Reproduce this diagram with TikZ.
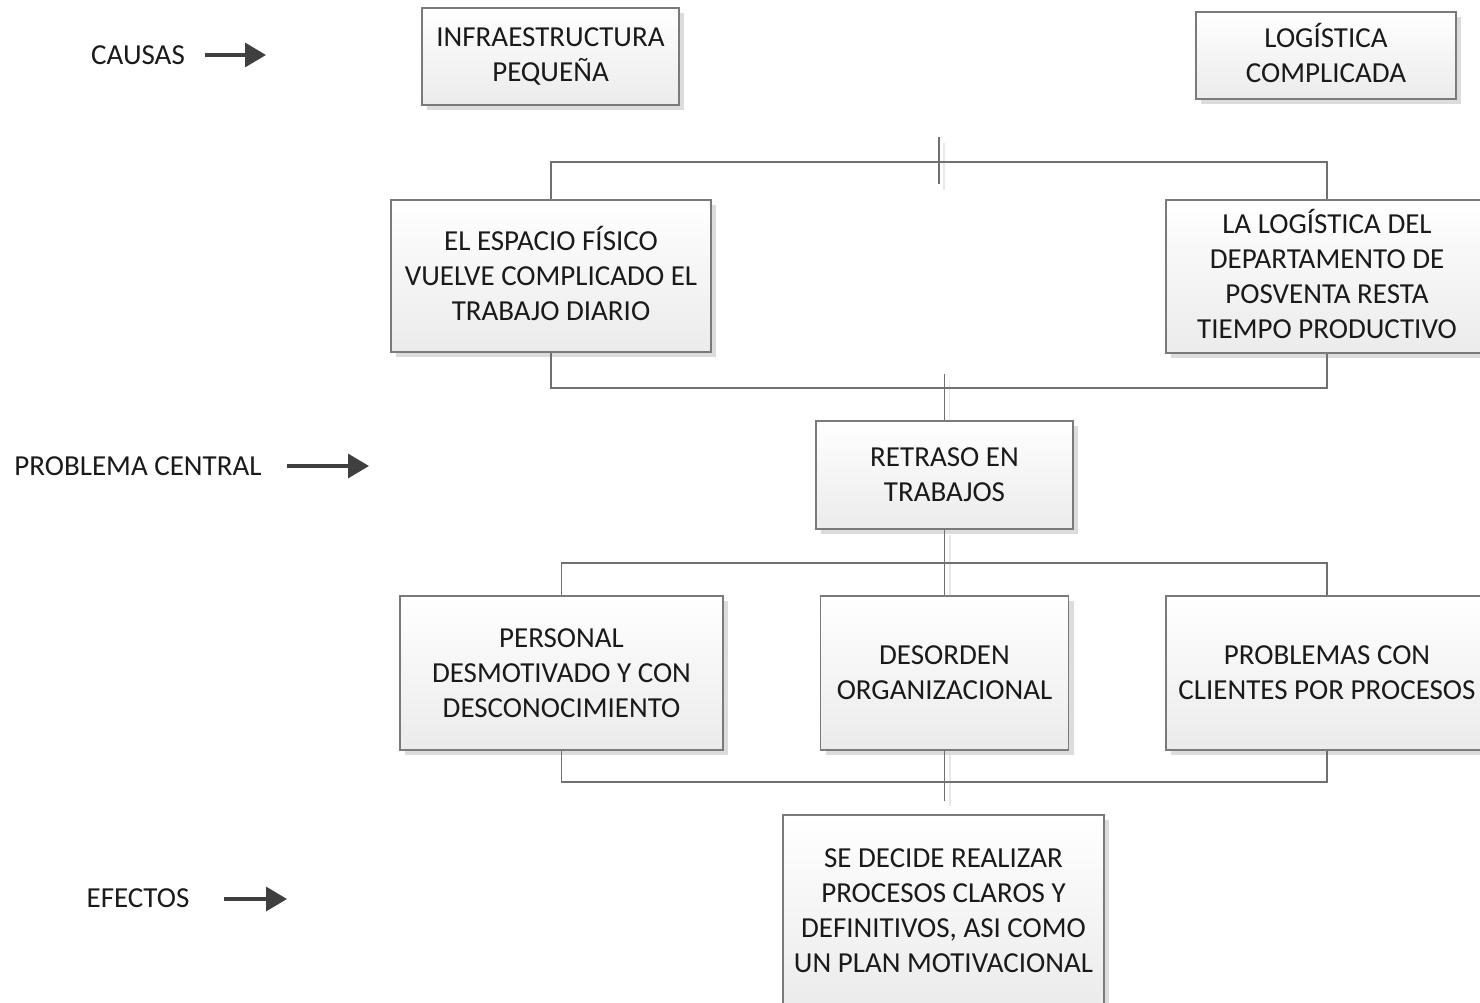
\documentclass[tikz,border=0pt]{standalone}
\usepackage{fontspec}
\setmainfont{Carlito}
\usetikzlibrary{arrows.meta,shadows}
\definecolor{boxline}{HTML}{7A7A7A}
\definecolor{boxbot}{HTML}{EBEBEB}
\definecolor{shadowgray}{HTML}{DCDCDC}
\definecolor{wire}{HTML}{707070}
\definecolor{ghost}{HTML}{E8E8E8}
\definecolor{arrowgray}{HTML}{3F3F3F}
\definecolor{txt}{HTML}{1A1A1A}
% accented capitals on a first line should not push the text block down
\newcommand{\flatacc}[1]{\smash{#1}}
\tikzset{
  box/.style={draw=boxline, line width=1.3pt, top color=white, bottom color=boxbot,
    drop shadow={shadow xshift=5pt, shadow yshift=-5pt, fill=shadowgray, opacity=1},
    align=center, text=txt, inner sep=0pt,
    font=\fontsize{29}{35}\selectfont},
  lbl/.style={text=txt, inner sep=0pt, font=\fontsize{29}{35}\selectfont},
  wireline/.style={draw=wire, line width=1.3pt},
  ghostline/.style={draw=ghost, line width=1.5pt},
  pointer/.style={draw=arrowgray, line width=3.3pt,
    -{Triangle[length=21pt,width=24pt]}}
}
\begin{document}
\begin{tikzpicture}[x=1pt,y=-1pt]
\useasboundingbox (0,0) rectangle (1480,1003);

% row labels with pointers
\node[lbl] (causas) at (138,55) {CAUSAS};
\node[lbl] (problema) at (138,466) {PROBLEMA CENTRAL};
\node[lbl] (efectos) at (138,898) {EFECTOS};
\coordinate (pa1) at (205,55);   \coordinate (pa2) at (266,55);
\coordinate (pb1) at (287,466);  \coordinate (pb2) at (369,466);
\coordinate (pc1) at (224,899);  \coordinate (pc2) at (287,899);

% junction points of the connector brackets
\coordinate (jtop) at (939,162);
\coordinate (stubtopA) at (939,137);
\coordinate (stubtopB) at (939,184);
\coordinate (jmid) at (944.5,388);
\coordinate (stubmid) at (944.5,374);
\coordinate (jlow) at (944.5,563);
\coordinate (jbot) at (944.5,782);
\coordinate (stubbot) at (944.5,801);

% faint shadows of the stub lines
\draw[ghostline] ([xshift=5pt,yshift=-6pt]stubtopA) -- ([xshift=5pt,yshift=-6pt]stubtopB);
\draw[ghostline] ([xshift=5pt,yshift=-6pt]stubmid) -- ++(0,47);
\draw[ghostline] (950,535) -- (950,600);
\draw[ghostline] (950,755) -- (950,806);

% boxes
\node[box, minimum width=257, minimum height=97] (b1) at (550.5,56.5)
  {INFRAESTRUCTURA\\PEQUEÑA};
\node[box, minimum width=260, minimum height=87] (b2) at (1326,55.5)
  {LOG\flatacc{Í}STICA\\COMPLICADA};
\node[box, minimum width=320, minimum height=152] (b3) at (551,276)
  {EL ESPACIO F\flatacc{Í}SICO\\VUELVE COMPLICADO EL\\TRABAJO DIARIO};
\node[box, minimum width=322, minimum height=153] (b4) at (1327,276.5)
  {LA LOG\flatacc{Í}STICA DEL\\DEPARTAMENTO DE\\POSVENTA RESTA\\TIEMPO PRODUCTIVO};
\node[box, minimum width=257, minimum height=108] (b5) at (944.5,475)
  {RETRASO EN\\TRABAJOS};
\node[box, minimum width=323, minimum height=154] (b6) at (561.5,673)
  {PERSONAL\\DESMOTIVADO Y CON\\DESCONOCIMIENTO};
\node[box, minimum width=248, minimum height=154] (b7) at (944.5,673)
  {DESORDEN\\ORGANIZACIONAL};
\node[box, minimum width=322, minimum height=154] (b8) at (1327,673)
  {PROBLEMAS CON\\CLIENTES POR PROCESOS};
\node[box, minimum width=321, minimum height=192] (b9) at (943.5,911)
  {SE DECIDE REALIZAR\\PROCESOS CLAROS Y\\DEFINITIVOS, ASI COMO\\UN PLAN MOTIVACIONAL};

% connectors
\draw[wireline] (b3.north) |- (jtop) -| (b4.north);
\draw[wireline] (stubtopA) -- (stubtopB);
\draw[wireline] (b3.south) |- (jmid) -| (b4.south);
\draw[wireline] (stubmid) -- (b5.north);
\draw[wireline] (b5.south) -- (b7.north);
\draw[wireline] (b6.north) |- (jlow) -| (b8.north);
\draw[wireline] (b6.south) |- (jbot) -| (b8.south);
\draw[wireline] (b7.south) -- (stubbot);

% pointers
\draw[pointer] (pa1) -- (pa2);
\draw[pointer] (pb1) -- (pb2);
\draw[pointer] (pc1) -- (pc2);
\end{tikzpicture}
\end{document}
